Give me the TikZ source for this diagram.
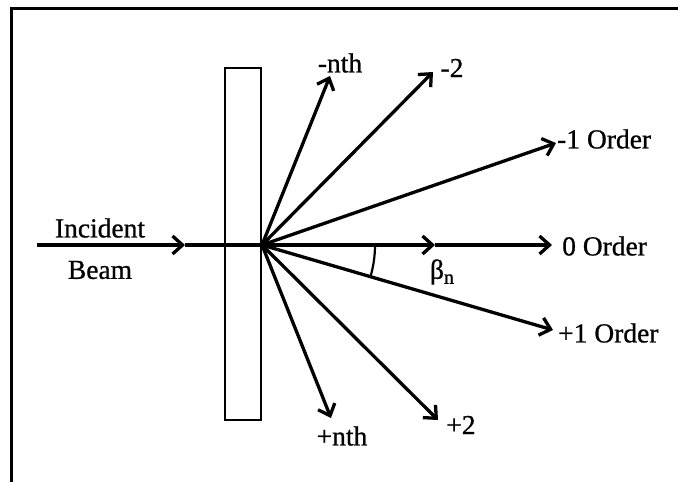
\documentclass[tikz,border=0pt]{standalone}
\usepackage{fontspec}
\setmainfont{Liberation Serif}[FakeBold=0.8]
\usetikzlibrary{arrows.meta}
\begin{document}
\begin{tikzpicture}[x=1pt,y=-1pt,
  ray/.style={line width=3.3pt},
  arr/.style={ray,-{Straight Barb[length=10pt,width=18pt,line width=3.3pt]}},
  lbl/.style={inner sep=0pt,font=\fontsize{27.5}{30}\selectfont},
  frame/.style={line width=3pt}]
\useasboundingbox (0,0) rectangle (678,482);
% frame (left and top edges visible)
\coordinate (fbl) at (11,482);
\coordinate (ftl) at (11,8);
\coordinate (ftr) at (678,8);
\draw[frame] (fbl) -- (ftl) -- (ftr);
% grating plate
\node[draw,line width=2.6pt,minimum width=36pt,minimum height=352pt,inner sep=0pt] (plate) at (243,244) {};
% centre point
\coordinate (O) at (262,245);
% incident beam
\coordinate (S) at (37,245);
\coordinate (M1) at (185,245);
\draw[arr] (S) -- (M1);
\draw[ray] (M1) -- (O);
% tips
\coordinate (T0) at (552,245);
\coordinate (M0) at (435,245);
\coordinate (Tm1) at (556,143);
\coordinate (Tm2) at (433,72);
\coordinate (Tmn) at (330,76);
\coordinate (Tp1) at (553,330);
\coordinate (Tp2) at (438,420);
\coordinate (Tpn) at (331,418);
\draw[arr] (O) -- (M0);
\draw[arr] (M0) -- (T0);
\draw[arr] (O) -- (Tm1);
\draw[arr] (O) -- (Tm2);
\draw[arr] (O) -- (Tmn);
\draw[arr] (O) -- (Tp1);
\draw[arr] (O) -- (Tp2);
\draw[arr] (O) -- (Tpn);
\fill (O) circle (3pt);
% angle arc
\draw[line width=2.2pt] ([shift={(0:113pt)}]O) arc[start angle=0,end angle=-16.3,radius=113pt];
% labels
\node[lbl] (lmn) at (340,63) {-nth};
\node[lbl] (lm2) at (452,68) {-2};
\node[lbl,anchor=west] (lm1) at (557,139) {-1 Order};
\node[lbl,anchor=west] (l0) at (562,246) {0 Order};
\node[lbl,anchor=west] (lp1) at (558,333) {+1 Order};
\node[lbl] (lp2) at (461,425) {+2};
\node[lbl] (lpn) at (342,436) {+nth};
\node[lbl] (beta) at (442,272) {β\raisebox{-5pt}{\fontsize{20}{20}\selectfont n}};
\node[lbl] (linc) at (100,228) {Incident};
\node[lbl] (lbeam) at (100,270) {Beam};
\end{tikzpicture}
\end{document}
